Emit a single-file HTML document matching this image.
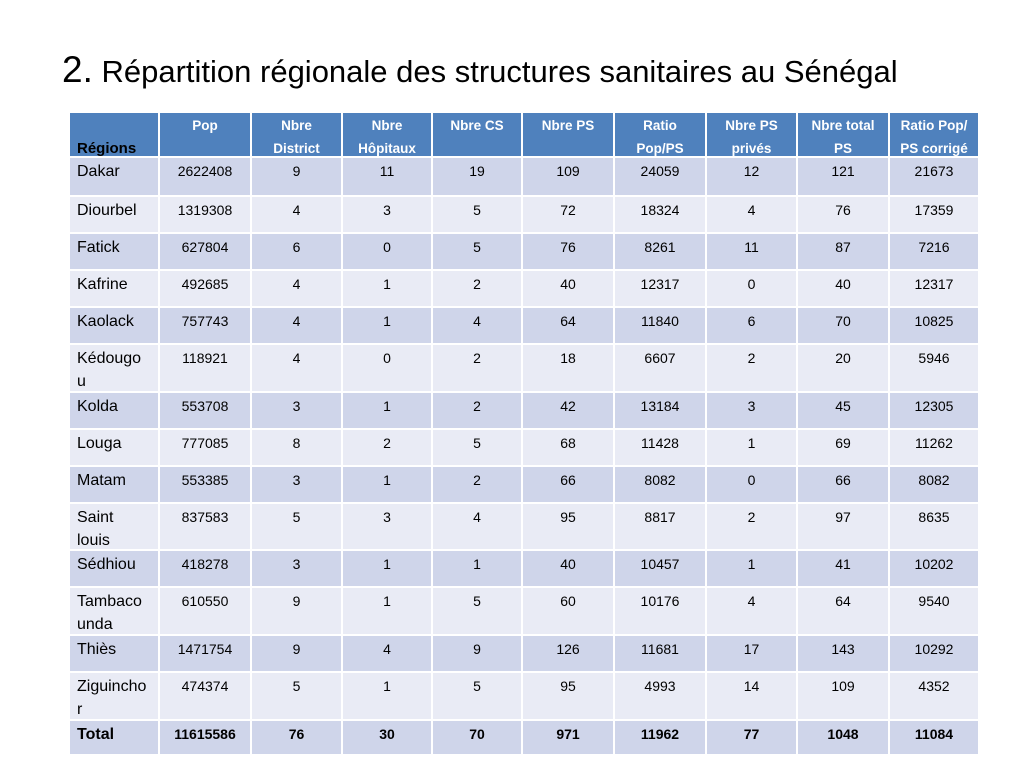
<!DOCTYPE html>
<html><head><meta charset="utf-8"><style>
body{margin:0;width:1024px;height:768px;background:#fff;position:relative;overflow:hidden;font-family:"Liberation Sans",sans-serif}
#title{position:absolute;left:62px;top:46px;font-size:31px;color:#000;white-space:nowrap;line-height:48px}
#title .n{font-size:37px}
.c{position:absolute;box-sizing:border-box;text-align:center;font-size:14px;line-height:23px;padding-top:2px;color:#000;overflow:hidden;white-space:nowrap}
.h{background:#4f81bd;color:#fff;font-weight:bold;font-size:13.5px;padding-top:1px}
.reg{text-align:left;padding-left:7px;font-size:16px}
.hreg{text-align:left;padding-left:7px;color:#000;font-size:15px;padding-top:24px}
.o{background:#cfd5ea}.e{background:#e9ebf5}
.b{font-weight:bold}
</style></head><body>
<div id="title"><span class="n">2.</span> Répartition régionale des structures sanitaires au Sénégal</div>
<div id="tbl"></div>
<script>
const colX=[69,159,251,342,432,522,614,706,797,889,979];
const rowY=[112,157,196,233,270,307,344,392,429,466,503,550,587,635,672,720,755];
const headers=["Régions","Pop","Nbre<br>District","Nbre<br>Hôpitaux","Nbre CS","Nbre PS","Ratio<br>Pop/PS","Nbre PS<br>privés","Nbre total<br>PS","Ratio Pop/<br>PS corrigé"];
const regions=["Dakar","Diourbel","Fatick","Kafrine","Kaolack","Kédougo<br>u","Kolda","Louga","Matam","Saint<br>louis","Sédhiou","Tambaco<br>unda","Thiès","Ziguincho<br>r","Total"];
const values=[
[2622408,9,11,19,109,24059,12,121,21673],
[1319308,4,3,5,72,18324,4,76,17359],
[627804,6,0,5,76,8261,11,87,7216],
[492685,4,1,2,40,12317,0,40,12317],
[757743,4,1,4,64,11840,6,70,10825],
[118921,4,0,2,18,6607,2,20,5946],
[553708,3,1,2,42,13184,3,45,12305],
[777085,8,2,5,68,11428,1,69,11262],
[553385,3,1,2,66,8082,0,66,8082],
[837583,5,3,4,95,8817,2,97,8635],
[418278,3,1,1,40,10457,1,41,10202],
[610550,9,1,5,60,10176,4,64,9540],
[1471754,9,4,9,126,11681,17,143,10292],
[474374,5,1,5,95,4993,14,109,4352],
[11615586,76,30,70,971,11962,77,1048,11084]];
const tbl=document.getElementById('tbl');
function cell(r,c,html,cls,name){
  const d=document.createElement('div');
  d.className='c '+cls;
  d.style.left=(colX[c]+1)+'px';d.style.top=(rowY[r]+1)+'px';
  d.style.width=(colX[c+1]-colX[c]-2)+'px';d.style.height=(rowY[r+1]-rowY[r]-2)+'px';
  d.innerHTML=html;
  
  
  tbl.appendChild(d);
}
headers.forEach((h,c)=>cell(0,c,h,c===0?'h hreg':'h','header-cell'));
regions.forEach((reg,i)=>{
  const cls=(i%2===0?'o':'e')+(i===regions.length-1?' b':'');
  cell(i+1,0,reg,cls+' reg','region-name');
  values[i].forEach((v,j)=>cell(i+1,j+1,String(v),cls,'value-cell'));
});
</script>
</body></html>
